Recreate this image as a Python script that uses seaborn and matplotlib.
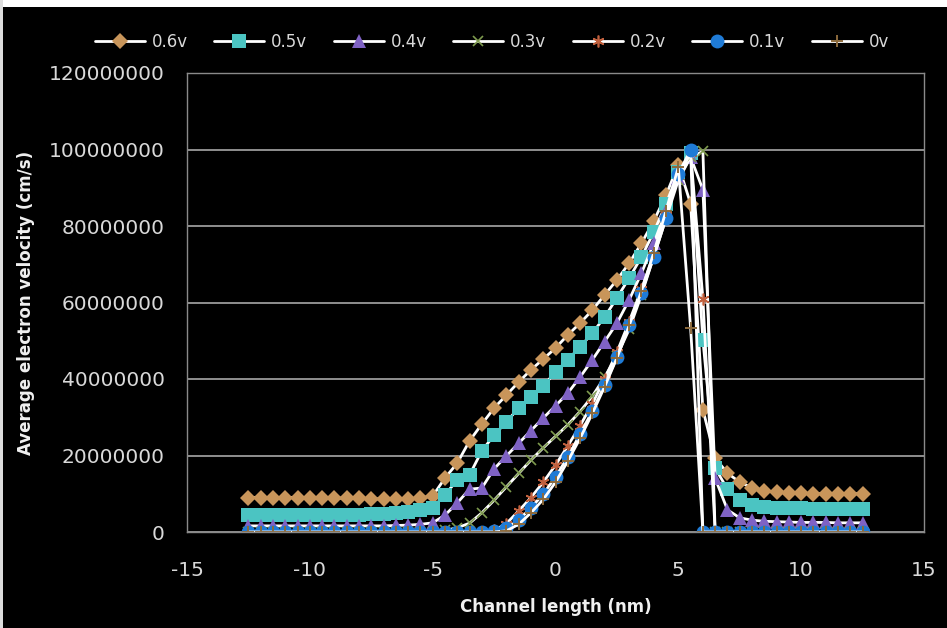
import matplotlib
matplotlib.use("Agg")
import matplotlib.pyplot as plt
from matplotlib.patches import Rectangle
from matplotlib.ticker import FuncFormatter
import seaborn as sns
import pandas as pd

# ---------------- data ----------------
channel_nm = [-12.5, -12.0, -11.5, -11.0, -10.5, -10.0, -9.5, -9.0, -8.5, -8.0,
              -7.5, -7.0, -6.5, -6.0, -5.5, -5.0, -4.5, -4.0, -3.5, -3.0,
              -2.5, -2.0, -1.5, -1.0, -0.5, 0.0, 0.5, 1.0, 1.5, 2.0,
              2.5, 3.0, 3.5, 4.0, 4.5, 5.0, 5.5, 6.0, 6.5, 7.0,
              7.5, 8.0, 8.5, 9.0, 9.5, 10.0, 10.5, 11.0, 11.5, 12.0, 12.5]

v_06 = [9.0e6, 9.0e6, 9.0e6, 9.0e6, 9.0e6, 9.0e6, 8.9e6, 8.9e6, 8.8e6, 8.8e6,
        8.7e6, 8.6e6, 8.5e6, 8.6e6, 8.9e6, 9.4e6, 14.1e6, 18.0e6, 23.8e6, 28.2e6,
        32.4e6, 35.8e6, 39.2e6, 42.4e6, 45.2e6, 48.1e6, 51.5e6, 54.6e6, 58.0e6, 62.0e6,
        65.9e6, 70.3e6, 75.5e6, 81.3e6, 88.1e6, 96.0e6, 85.8e6, 32.0e6, 19.3e6, 15.4e6,
        13.0e6, 11.6e6, 10.8e6, 10.4e6, 10.2e6, 10.1e6, 10.0e6, 10.0e6, 10.0e6, 10.0e6, 10.0e6]

v_05 = [4.4e6, 4.4e6, 4.4e6, 4.4e6, 4.4e6, 4.4e6, 4.4e6, 4.4e6, 4.4e6, 4.5e6,
        4.6e6, 4.8e6, 5.0e6, 5.2e6, 5.7e6, 6.3e6, 9.7e6, 13.6e6, 14.9e6, 21.2e6,
        25.3e6, 28.8e6, 32.4e6, 35.3e6, 38.2e6, 41.8e6, 45.0e6, 48.4e6, 52.0e6, 56.2e6,
        61.2e6, 66.4e6, 71.9e6, 78.4e6, 85.8e6, 94.0e6, 99.0e6, 50.2e6, 16.7e6, 11.2e6,
        8.4e6, 7.1e6, 6.6e6, 6.4e6, 6.3e6, 6.2e6, 6.1e6, 6.1e6, 6.0e6, 6.0e6, 6.0e6]

v_04 = [1.6e6, 1.6e6, 1.6e6, 1.6e6, 1.6e6, 1.6e6, 1.6e6, 1.6e6, 1.6e6, 1.6e6,
        1.6e6, 1.6e6, 1.7e6, 1.8e6, 2.0e6, 2.4e6, 4.4e6, 7.6e6, 11.2e6, 11.5e6,
        16.5e6, 19.9e6, 23.2e6, 26.5e6, 29.8e6, 33.0e6, 36.3e6, 40.5e6, 45.0e6, 49.8e6,
        54.6e6, 60.7e6, 67.7e6, 75.5e6, 84.0e6, 92.5e6, 98.0e6, 89.5e6, 14.0e6, 5.8e6,
        3.7e6, 3.1e6, 2.8e6, 2.7e6, 2.6e6, 2.5e6, 2.5e6, 2.5e6, 2.4e6, 2.4e6, 2.4e6]

v_03 = [0.0, 0.0, 0.0, 0.0, 0.0, 0.0, 0.0, 0.0, 0.0, 0.0,
        0.0, 0.0, 0.0, 0.0, 0.0, 0.1e6, 0.4e6, 1.1e6, 2.3e6, 5.0e6,
        8.3e6, 11.8e6, 15.3e6, 18.8e6, 22.0e6, 25.0e6, 28.0e6, 31.5e6, 35.5e6, 40.5e6,
        46.0e6, 53.0e6, 62.0e6, 72.0e6, 82.0e6, 92.0e6, 98.0e6, 99.5e6, 0.0, 0.0,
        0.0, 0.0, 0.0, 0.0, 0.0, 0.0, 0.0, 0.0, 0.0, 0.0, 0.0]

v_02 = [0.0, 0.0, 0.0, 0.0, 0.0, 0.0, 0.0, 0.0, 0.0, 0.0,
        0.0, 0.0, 0.0, 0.0, 0.0, 0.0, 0.0, 0.0, 0.0, 0.1e6,
        0.4e6, 2.2e6, 5.5e6, 9.0e6, 13.0e6, 17.5e6, 22.5e6, 27.8e6, 33.5e6, 40.0e6,
        47.0e6, 55.0e6, 63.5e6, 72.5e6, 83.0e6, 93.0e6, 99.0e6, 61.0e6, 0.0, 0.0,
        0.0, 0.0, 0.0, 0.0, 0.0, 0.0, 0.0, 0.0, 0.0, 0.0, 0.0]

v_01 = [0.0, 0.0, 0.0, 0.0, 0.0, 0.0, 0.0, 0.0, 0.0, 0.0,
        0.0, 0.0, 0.0, 0.0, 0.0, 0.0, 0.0, 0.0, 0.0, 0.0,
        0.2e6, 1.0e6, 3.1e6, 6.3e6, 9.9e6, 14.4e6, 19.6e6, 25.6e6, 31.6e6, 38.4e6,
        45.7e6, 54.0e6, 62.5e6, 72.0e6, 82.0e6, 93.5e6, 100.0e6, 0.0, 0.0, 0.0,
        0.0, 0.0, 0.0, 0.0, 0.0, 0.0, 0.0, 0.0, 0.0, 0.0, 0.0]

v_00 = [0.0, 0.0, 0.0, 0.0, 0.0, 0.0, 0.0, 0.0, 0.0, 0.0,
        0.0, 0.0, 0.0, 0.0, 0.0, 0.0, 0.0, 0.0, 0.0, 0.0,
        0.0, 0.3e6, 2.0e6, 5.0e6, 8.5e6, 13.0e6, 18.5e6, 24.5e6, 31.0e6, 38.0e6,
        45.5e6, 54.0e6, 63.0e6, 73.0e6, 84.0e6, 95.4e6, 53.3e6, 0.0, 0.0, 0.0,
        0.0, 0.0, 0.0, 0.0, 0.0, 0.0, 0.0, 0.0, 0.0, 0.0, 0.0]

series_labels = ["0.6v", "0.5v", "0.4v", "0.3v", "0.2v", "0.1v", "0v"]
series_values = [v_06, v_05, v_04, v_03, v_02, v_01, v_00]
y_ticks = [0, 20000000, 40000000, 60000000, 80000000, 100000000, 120000000]
x_ticks = [-15, -10, -5, 0, 5, 10, 15]

# ---------------- styles ----------------
marker_styles = ["D", "s", "^", "x", (6, 2, 0), "o", "+"]
marker_sizes = [8.5, 10, 10, 7.5, 8.5, 10, 8.5]
marker_colors = ["#C8955A", "#4BC4C2", "#7F62C4", "#7E9A4E", "#C0603E", "#1F7BD6", "#8C6A3C"]
marker_edge_w = [0, 0, 0, 1.2, 1.2, 0, 1.4]

sns.set_theme(style="dark")
plt.rcParams["font.family"] = ["DejaVu Sans"]

fig = plt.figure(figsize=(9.47, 6.28), dpi=100, facecolor="black")
fig.add_artist(Rectangle((0, 1 - 7 / 628), 1, 7 / 628, transform=fig.transFigure,
                         facecolor="white", edgecolor="none", zorder=0))
fig.add_artist(Rectangle((0, 0), 3 / 947, 1, transform=fig.transFigure,
                         facecolor="#dddddd", edgecolor="none", zorder=0))

ax = fig.add_axes([187 / 947, (628 - 532) / 628, (924 - 187) / 947, (532 - 73) / 628])
ax.set_facecolor("black")

for lab, vals, m, ms, mc, mew in zip(series_labels, series_values, marker_styles,
                                     marker_sizes, marker_colors, marker_edge_w):
    df = pd.DataFrame({"x": channel_nm, "y": vals})
    filled = m in ("D", "s", "^", "o")
    sns.lineplot(data=df, x="x", y="y", ax=ax, color="white", linewidth=2.0,
                 marker=m, markersize=ms,
                 markerfacecolor=mc if filled else "none",
                 markeredgecolor=mc,
                 markeredgewidth=mew if not filled else 0,
                 label=lab, sort=False, estimator=None)

ax.set_xlim(-15, 15)
ax.set_ylim(0, 120000000)
ax.set_xticks(x_ticks)
ax.set_yticks(y_ticks)
ax.yaxis.set_major_formatter(FuncFormatter(lambda v, p: f"{int(round(v))}"))
ax.xaxis.set_major_formatter(FuncFormatter(lambda v, p: f"{int(round(v))}"))

ax.grid(False)
ax.yaxis.grid(True, color="#a8a8a8", linewidth=1.2)
for sp in ax.spines.values():
    sp.set_visible(True)
    sp.set_color("#8a8a8a")
    sp.set_linewidth(1.0)

ax.tick_params(axis="both", length=0, colors="#d9d9d9", labelsize=14.5)
ax.tick_params(axis="x", pad=21)
ax.tick_params(axis="y", pad=16)

ax.set_xlabel("Channel length (nm)", color="#f0f0f0", fontsize=12, fontweight="bold",
              labelpad=13)
ax.set_ylabel("Average electron velocity (cm/s)", color="#f0f0f0", fontsize=12,
              fontweight="bold", labelpad=10)

handles, labels = ax.get_legend_handles_labels()
if ax.get_legend() is not None:
    ax.get_legend().remove()
leg = fig.legend(handles, labels, loc="center", ncol=7,
                 bbox_to_anchor=(492 / 947, 1 - 42 / 628), frameon=False,
                 fontsize=12, handlelength=3.0, columnspacing=1.6, handletextpad=0.4,
                 labelcolor="#d9d9d9")

fig.savefig("out.png", dpi=100, facecolor=fig.get_facecolor())
